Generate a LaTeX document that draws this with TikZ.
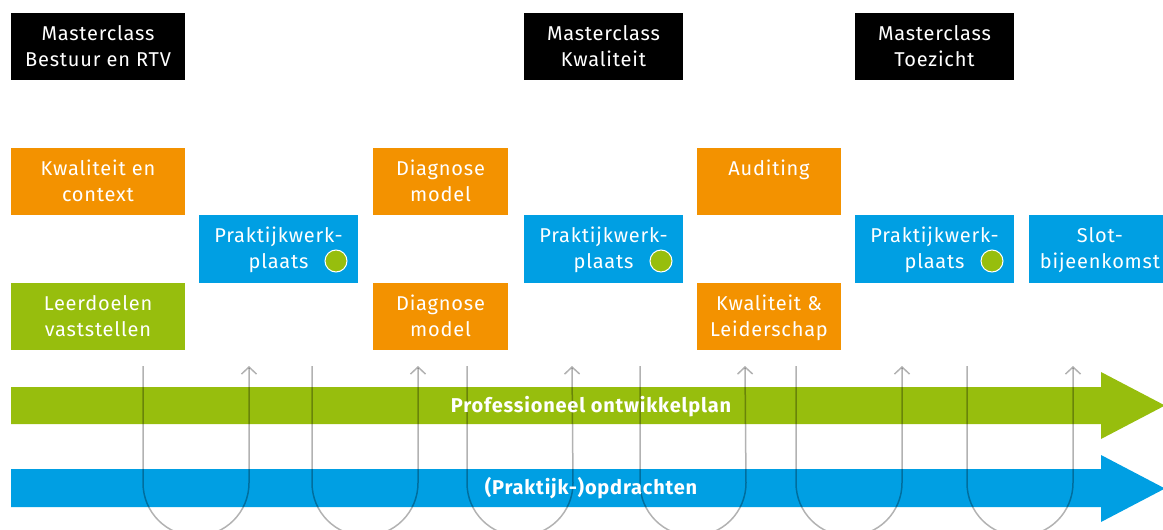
\documentclass[tikz,border=0pt]{standalone}
\usepackage{fontspec}
\setmainfont{Fira Sans}[LetterSpace=4]
\usetikzlibrary{arrows.meta}
\definecolor{cOrange}{HTML}{F39200}
\definecolor{cGreen}{HTML}{97BE0D}
\definecolor{cBlue}{HTML}{009FE3}
\newcommand{\ls}{\rule[-6.5pt]{0pt}{26pt}}
\tikzset{
  box/.style={inner sep=0pt, text=white, align=center, anchor=center,
    font=\fontsize{20}{26}\selectfont},
  blackbox/.style={box, fill=black, minimum width=#1, minimum height=67pt},
  orangebox/.style={box, fill=cOrange, minimum width=#1, minimum height=67pt},
  greenbox/.style={box, fill=cGreen, minimum width=#1, minimum height=67pt},
  bluebox/.style={box, fill=cBlue, minimum width=#1, minimum height=68pt},
  dot/.style={circle, fill=cGreen, draw=white, line width=1pt, minimum size=22pt, inner sep=0pt},
  barlabel/.style={text=white, font=\fontsize{20}{24}\bfseries\selectfont, inner sep=0pt},
  uline/.style={draw=black, draw opacity=0.3, line width=1.5pt},
  uarrow/.style={uline, -{Straight Barb[length=7pt,width=15pt]}},
}
\begin{document}
\begin{tikzpicture}[x=1pt,y=-1pt]
\useasboundingbox (0,0) rectangle (1163,530);
% top row: masterclasses
\node[blackbox=174pt] (m1) at (98,46.5) {\ls Masterclass\\\ls Bestuur en RTV};
\node[blackbox=159pt] (m2) at (603.5,46.5) {\ls Masterclass\\\ls Kwaliteit};
\node[blackbox=159pt] (m3) at (934.5,46.5) {\ls Masterclass\\\ls Toezicht};
% orange modules
\node[orangebox=174pt] (o1) at (98,181.5) {\ls Kwaliteit en\\\ls context};
\node[orangebox=135pt] (o2) at (440.5,181.5) {\ls Diagnose\\\ls model};
\node[orangebox=135pt] (o3) at (440.5,316.5) {\ls Diagnose\\\ls model};
\node[orangebox=144pt] (o4) at (769,181.5) {\ls Auditing\\\ls\mbox{}};
\node[orangebox=144pt] (o5) at (769,316.5) {\ls Kwaliteit \&\\\ls Leiderschap};
% green
\node[greenbox=174pt] (g1) at (98,316.5) {\ls Leerdoelen\\\ls vaststellen};
% blue
\node[bluebox=159pt] (b1) at (278.5,249) {\ls Praktijkwerk-\\\ls plaats};
\node[bluebox=159pt] (b2) at (603.5,249) {\ls Praktijkwerk-\\\ls plaats};
\node[bluebox=159pt] (b3) at (934.5,249) {\ls Praktijkwerk-\\\ls plaats};
\node[bluebox=142pt] (b4) at (1100,249) {\ls Slot-\\\ls bijeenkomst};
\node[dot] (d1) at (336,261) {};
\node[dot] (d2) at (661,261) {};
\node[dot] (d3) at (992,261) {};
% big arrows
\fill[cGreen] (11,387) -- (1101,387) -- (1101,372) -- (1165,405.5) -- (1101,439) -- (1101,424) -- (11,424) -- cycle;
\fill[cBlue] (11,469) -- (1101,469) -- (1101,455) -- (1165,488.5) -- (1101,522) -- (1101,507) -- (11,507) -- cycle;
% U-shaped loops
\foreach \i/\a/\b in {1/143/249, 2/312/418, 3/467/572, 4/640/745, 5/796/902, 6/967/1073}{
  \coordinate (s\i) at (\a,366);
  \coordinate (e\i) at (\b,366);
  \draw[uarrow] (s\i) -- ++(0,117) arc[start angle=180, end angle=0, x radius=53pt, y radius=-53pt] -- (e\i);
}
\node[barlabel, anchor=base] (pl) at (591,412) {Professioneel ontwikkelplan};
\node[barlabel, anchor=base] (po) at (591,494.5) {(Praktijk-)opdrachten};
\end{tikzpicture}
\end{document}
